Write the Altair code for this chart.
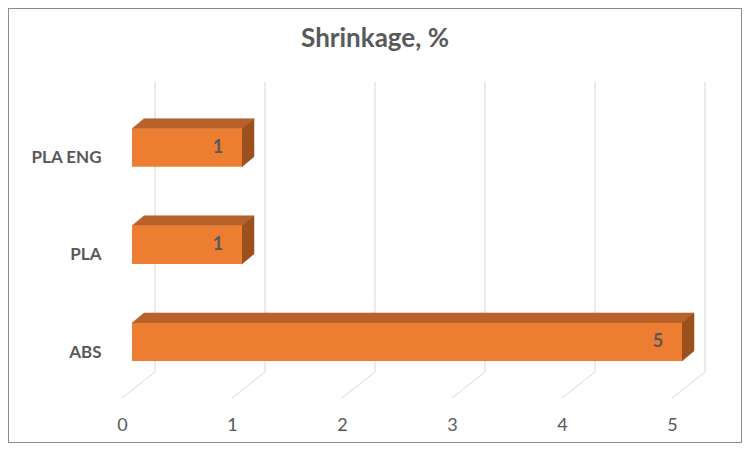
import altair as alt
import pandas as pd

# ---- data ----
materials = ["ABS", "PLA", "PLA ENG"]
shrinkage = [5, 1, 1]
ticks = [0, 1, 2, 3, 4, 5]
title_text = "Shrinkage, %"

# ---- style ----
FONT = "Lato"
TXT = "#595959"
FRONT = "#ED7D31"
TOP = "#B9612A"
SIDE = "#9C501D"
GRID = "#D9D9D9"

# ---- 3D geometry (in scale units) ----
HALF = 0.196        # half bar thickness
DDX = 0.109         # bar depth along x
DDY = 0.103         # bar depth along y
BACK_DX = 0.209     # back wall offset in x
WALL_TOP = 2.68
WALL_BOT = -0.309
FLOOR_FRONT = -0.577
FRONT_DX = -0.091

bars = pd.DataFrame({"material": materials, "value": shrinkage,
                     "idx": list(range(len(materials)))})
faces = bars.merge(pd.DataFrame({"t": [0, 1]}), how="cross")
tick_df = pd.DataFrame({"tick": ticks})

xscale = alt.Scale(domain=[0, 5], nice=False, zero=False)
yscale = alt.Scale(domain=[-0.7, 2.8], nice=False, zero=False)

x_axis = alt.Axis(values=ticks, title=None, grid=False, domain=False, ticks=False,
                  labelOffset=-10, labelPadding=6, labelFontSize=18, labelColor=TXT,
                  labelFont=FONT, labelFlush=False)
label_expr = "[" + ", ".join(f"'{m}'" for m in materials) + "][datum.value]"
y_axis = alt.Axis(values=list(range(len(materials))), labelExpr=label_expr, title=None,
                  grid=False, domain=False, ticks=False, labelPadding=31, labelOffset=10,
                  labelFontSize=17, labelFontWeight="bold", labelColor=TXT, labelFont=FONT)

X = lambda f: alt.X(f, scale=xscale, axis=x_axis)
Y = lambda f: alt.Y(f, scale=yscale, axis=y_axis)

wall = alt.Chart(tick_df).transform_calculate(
    xb=f"datum.tick + {BACK_DX}", y0=f"{WALL_BOT}", y1=f"{WALL_TOP}"
).mark_rule(color=GRID, strokeWidth=1).encode(x=X("xb:Q"), y=Y("y0:Q"), y2="y1:Q")

floor = alt.Chart(tick_df).transform_calculate(
    xb=f"datum.tick + {BACK_DX}", xf=f"datum.tick + {FRONT_DX}",
    y0=f"{WALL_BOT}", yf=f"{FLOOR_FRONT}"
).mark_rule(color=GRID, strokeWidth=1).encode(x=X("xb:Q"), y=Y("y0:Q"), x2="xf:Q", y2="yf:Q")

top = alt.Chart(faces).transform_calculate(
    ya=f"datum.idx + {HALF} + datum.t * {DDY}",
    xa=f"datum.t * {DDX}",
    xb=f"datum.value + datum.t * {DDX}"
).mark_area(orient="horizontal", color=TOP, stroke=TOP, strokeWidth=0.5).encode(
    y=Y("ya:Q"), x=alt.X("xa:Q", scale=xscale, axis=x_axis, stack=None), x2="xb:Q",
    detail="material:N")

side = alt.Chart(faces).transform_calculate(
    xs=f"datum.value + datum.t * {DDX}",
    ylo=f"datum.idx - {HALF} + datum.t * {DDY}",
    yhi=f"datum.idx + {HALF} + datum.t * {DDY}"
).mark_area(orient="vertical", color=SIDE, stroke=SIDE, strokeWidth=0.5).encode(
    x=X("xs:Q"), y=alt.Y("ylo:Q", scale=yscale, axis=y_axis, stack=None), y2="yhi:Q",
    detail="material:N")

front = alt.Chart(bars).transform_calculate(
    x0="0", ylo=f"datum.idx - {HALF}", yhi=f"datum.idx + {HALF}"
).mark_rect(color=FRONT).encode(x=X("x0:Q"), x2="value:Q", y=Y("ylo:Q"), y2="yhi:Q")

labels = alt.Chart(bars).mark_text(
    dx=-24, align="center", baseline="middle", font=FONT, fontSize=18,
    fontWeight="bold", color=TXT
).encode(x=X("value:Q"), y=Y("idx:Q"), text="value:Q")

frame = alt.Chart(bars).mark_rect(fill=None, stroke="#8C8C8C", strokeWidth=1).encode(
    x=alt.value(-123.5), x2=alt.value(609.5), y=alt.value(-61.5), y2=alt.value(372.5))

chart = alt.layer(wall, floor, top, side, front, labels, frame).properties(
    width=550, height=340,
    padding={"left": 124, "top": 62, "right": 60, "bottom": 33},
    autosize=alt.AutoSizeParams(type="none"),
    title=alt.TitleParams(text=title_text, font=FONT, fontSize=26, fontWeight="bold",
                          color=TXT, anchor="middle", dx=-32, offset=0, dy=64.5,
                          baseline="alphabetic"),
).configure_view(strokeWidth=0)

chart.save("out.html", embed_options={"renderer": "svg", "actions": False})
